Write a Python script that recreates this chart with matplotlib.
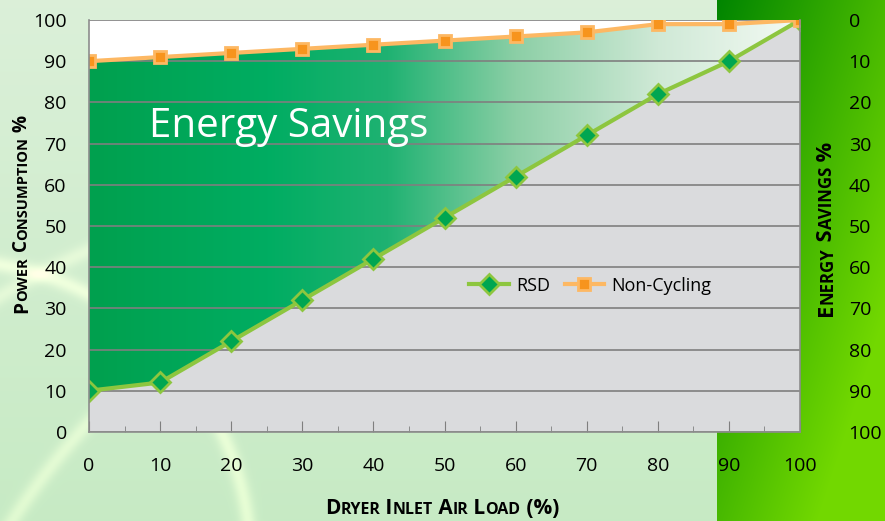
import matplotlib.pyplot as plt
import numpy as np
from matplotlib.colors import LinearSegmentedColormap

plt.rcParams['font.family'] = ['Open Sans', 'DejaVu Sans']

load = [0, 10, 20, 30, 40, 50, 60, 70, 80, 90, 100]
rsd = [10, 12, 22, 32, 42, 52, 62, 72, 82, 90, 100]
non_cycling = [90, 91, 92, 93, 94, 95, 96, 97, 99, 99, 100]
savings_ticks = [0, 10, 20, 30, 40, 50, 60, 70, 80, 90, 100]

W, H = 885, 521
fig = plt.figure(figsize=(W / 100, H / 100), dpi=100)

# background: pale green on the left, saturated green band on the right
bg = fig.add_axes([0, 0, 1, 1], zorder=-10)
yy, xx = np.mgrid[0:H, 0:W]
img = np.zeros((H, W, 3))
t = yy / H
img[..., 0] = 0.86 - 0.08 * t
img[..., 1] = 0.94 - 0.02 * t
img[..., 2] = 0.85 - 0.08 * t
# faint swirl arcs
for cx, cy, r, a in [(600, 900, 700, 0.10), (420, 1000, 820, 0.08), (-50, 560, 300, 0.12)]:
    d = np.abs(np.hypot(xx - cx, yy - cy) - r)
    glow = a * np.exp(-(d / 8.0) ** 2)
    img[..., 0] += glow
    img[..., 1] += glow * 0.6
    img[..., 2] += glow * 0.5
band = xx > 716
s = np.clip(((xx - 716) / 170 + t) / 1.6, 0, 1)
img[band, 0] = (0.0 + 0.45 * s)[band]
img[band, 1] = (0.52 + 0.33 * s)[band]
img[band, 2] = 0.0
bg.imshow(np.clip(img, 0, 1), aspect='auto', extent=[0, 1, 0, 1])
bg.axis('off')

ax = fig.add_axes([0.1006, 0.171, 0.8034, 0.7906])
ax.set_facecolor('#dadbdd')
ax.set_xlim(0, 100)
ax.set_ylim(0, 100)

# white area above the non-cycling line
ax.fill_between(load, non_cycling, 100, color='white', zorder=1)

# gradient fill for the savings area
cmap = LinearSegmentedColormap.from_list('sav', [
    (0.0, '#00a04e'), (0.25, '#00ad62'), (0.42, '#1fb272'),
    (0.6, '#8ccfa6'), (0.8, '#cfe9d6'), (1.0, '#f4faf4')])
poly = ax.fill_between(load, rsd, non_cycling, color='none', zorder=2)
grad = np.linspace(0, 1, 256).reshape(1, -1)
im = ax.imshow(grad, extent=[0, 100, 0, 100], aspect='auto', cmap=cmap, zorder=2)
im.set_clip_path(poly.get_paths()[0], transform=ax.transData)

ax.set_yticks(range(0, 101, 10))
ax.set_xticks(range(0, 101, 10))
ax.set_xticks(range(5, 100, 10), minor=True)
ax.yaxis.grid(True, color='#7f7f7f', lw=1.2, zorder=3)
ax.set_axisbelow(False)
for gl in ax.get_ygridlines():
    gl.set_zorder(3)

ax.plot(load, rsd, color='#8dc63f', lw=3, marker='D', ms=10,
        mfc='#00a651', mec='#8dc63f', mew=2, label='RSD', zorder=5)
ax.plot(load, non_cycling, color='#fdb863', lw=3, marker='s', ms=9,
        mfc='#f7941d', mec='#fdb863', mew=2, label='Non-Cycling', zorder=5)

ax.text(8.5, 74, 'Energy Savings', color='white', fontsize=29, va='center', zorder=6)

ax.tick_params(axis='x', which='major', direction='in', length=8, color='#7f7f7f',
               labelsize=14, pad=18)
ax.tick_params(axis='x', which='minor', direction='in', length=4, color='#7f7f7f')
ax.tick_params(axis='y', length=0, labelsize=14, pad=16)
ax.spines['top'].set_visible(False)
for side in ['left', 'bottom', 'right']:
    ax.spines[side].set_color('#8c8c8c')
    ax.spines[side].set_linewidth(1.2)
    ax.spines[side].set_zorder(6)

ax2 = ax.twinx()
ax2.set_ylim(100, 0)
ax2.set_yticks(savings_ticks)
ax2.tick_params(axis='y', length=0, labelsize=14, pad=35)
for side in ax2.spines:
    ax2.spines[side].set_visible(False)

ax.legend(loc='center', bbox_to_anchor=(0.705, 0.355), ncol=2, frameon=False,
          fontsize=13, handlelength=2.2, columnspacing=0.8, handletextpad=0.4)


# axis titles in small caps: capitals large, lower case as smaller capitals
renderer = fig.canvas.get_renderer()


def small_caps(cx, cy, text, length, rotation=0):
    runs = []
    for ch in text:
        rel = 0.77 if ch.islower() else 1.0
        if runs and runs[-1][1] == rel:
            runs[-1][0] += ch.upper()
        else:
            runs.append([ch.upper(), rel])

    def measure(base):
        out = []
        for s_, rel in runs:
            tmp = fig.text(0, 0, s_, fontsize=base * rel, fontweight='bold')
            out.append(tmp.get_window_extent(renderer).width)
            tmp.remove()
        return out

    base = 14 * length / sum(measure(14))
    widths = measure(base)
    pos = -sum(widths) / 2
    for (s_, rel), w in zip(runs, widths):
        if rotation == 0:
            x, y = cx + pos, cy
        else:
            x, y = cx, cy + pos
        fig.text(x / W, y / H, s_, fontsize=base * rel, fontweight='bold',
                 rotation=rotation, rotation_mode='anchor', ha='left', va='baseline')
        pos += w


small_caps(442, H - 514, 'Dryer Inlet Air Load (%)', 236)
small_caps(27, H - 214, 'Power Consumption %', 198, rotation=90)
small_caps(832, H - 229, 'Energy Savings %', 175, rotation=90)

fig.savefig('out.png', dpi=100)
